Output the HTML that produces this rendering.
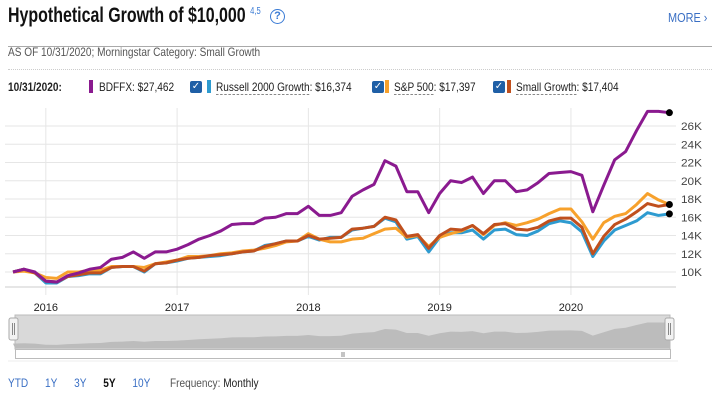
<!DOCTYPE html>
<html><head><meta charset="utf-8">
<style>
body{margin:0;width:720px;height:402px;overflow:hidden;background:#fff;font-family:"Liberation Sans",sans-serif;position:relative}
.a{position:absolute;white-space:nowrap}
.c{display:inline-block;transform:scaleX(.84);transform-origin:left center}
.lg{font-size:12px;color:#222}
.u{border-bottom:1px dashed #888}
.cb{position:absolute;width:12px;height:12px;background:#1f5fa6;border-radius:2px;color:#fff;font-size:10px;line-height:12px;text-align:center}
.bar{position:absolute;width:4px;height:13px}
</style></head><body>
<div class="a" style="left:8px;top:4px;font-size:21px;color:#111;font-weight:bold"><span class="c" style="transform:scaleX(.76)">Hypothetical Growth of $10,000 <sup style="font-size:10px;color:#3a7bd5;font-weight:normal">4,5</sup></span></div>
<div class="a" style="left:270px;top:9px;width:13px;height:13px;border:1.5px solid #3a7bd5;border-radius:50%;color:#3a7bd5;font-size:11px;font-weight:bold;text-align:center;line-height:13px">?</div>
<div class="a" style="left:668px;top:10px;font-size:13px;color:#3a6fc4"><span class="c">MORE ›</span></div>
<div class="a" style="left:8px;top:46px;width:704px;height:1px;background:#aaa"></div>
<div class="a" style="left:8px;top:45px;font-size:12px;color:#555"><span class="c">AS OF 10/31/2020; Morningstar Category: Small Growth</span></div>
<div class="a" style="left:8px;top:69px;width:704px;border-top:1px dotted #ccc"></div>
<div class="a lg" style="left:8px;top:80px;font-weight:bold"><span class="c">10/31/2020:</span></div>
<div class="bar" style="left:89px;top:80px;background:#8a1a8f"></div>
<div class="a lg" style="left:99px;top:80px"><span class="c">BDFFX: $27,462</span></div>
<div class="cb" style="left:190px;top:81px">✓</div>
<div class="bar" style="left:207px;top:80px;background:#2e9bd0"></div>
<div class="a lg" style="left:216px;top:80px"><span class="c"><span class="u">Russell 2000 Growth</span>: $16,374</span></div>
<div class="cb" style="left:372px;top:81px">✓</div>
<div class="bar" style="left:385px;top:80px;background:#f7a12c"></div>
<div class="a lg" style="left:394px;top:80px"><span class="c"><span class="u">S&amp;P 500</span>: $17,397</span></div>
<div class="cb" style="left:493px;top:81px">✓</div>
<div class="bar" style="left:507px;top:80px;background:#c0501e"></div>
<div class="a lg" style="left:516px;top:80px"><span class="c"><span class="u">Small Growth</span>: $17,404</span></div>

<svg id="ch" class="a" style="left:0;top:0" width="720" height="402"></svg>

<div class="a" style="left:8px;top:376px;font-size:12px"><span class="c">
<span style="color:#3a6fc4">YTD</span>&nbsp;&nbsp;&nbsp;&nbsp;&nbsp;
<span style="color:#3a6fc4">1Y</span>&nbsp;&nbsp;&nbsp;&nbsp;&nbsp;
<span style="color:#3a6fc4">3Y</span>&nbsp;&nbsp;&nbsp;&nbsp;&nbsp;
<span style="color:#111;font-weight:bold">5Y</span>&nbsp;&nbsp;&nbsp;&nbsp;&nbsp;
<span style="color:#3a6fc4">10Y</span>&nbsp;&nbsp;&nbsp;&nbsp;&nbsp;&nbsp;
<span style="color:#555">Frequency: <span style="color:#222">Monthly</span></span></span></div>

<script>
const bdffx=[10.0,10.3,10.0, 9.0,8.9,9.6,9.9,10.3,10.5,11.4,11.6,12.2,11.5,12.2,12.2, 12.5,13.0,13.6,14.0,14.5,15.2,15.3,15.3,15.9,16.0,16.4,16.4, 17.2,16.2,16.2,16.5,18.3,19.0,19.6,22.2,21.6,18.8,18.8,16.5, 18.6,20.0,19.8,20.4,18.6,20.0,20.0,18.8,19.0,19.8,20.8,20.9, 21.0,20.6,16.6,19.5,22.3,23.2,25.5,27.6,27.6,27.46];
const russell=[10.0,10.3,9.9, 8.8,8.8,9.5,9.6,9.8,9.8,10.5,10.6,10.6,10.0,10.9,11.0, 11.2,11.5,11.6,11.7,11.8,12.0,12.2,12.3,12.9,13.1,13.4,13.4, 13.9,13.5,13.8,13.8,14.6,14.8,15.0,15.9,15.5,13.6,13.9,12.2, 13.8,14.3,14.3,14.6,13.6,14.6,14.7,14.1,14.0,14.5,15.3,15.6, 15.4,14.4,11.7,13.4,14.6,15.1,15.6,16.5,16.2,16.37];
const smallGrowth=[10.0,10.3,9.9, 9.0,8.9,9.5,9.7,9.9,9.9,10.5,10.6,10.6,10.1,10.9,11.0, 11.3,11.5,11.6,11.8,11.9,12.0,12.2,12.3,12.8,13.1,13.4,13.4, 14.0,13.6,13.7,13.8,14.7,14.8,15.0,16.0,15.7,13.9,14.1,12.6, 14.0,14.7,14.6,15.1,14.2,15.2,15.3,14.7,14.6,14.9,15.6,15.9, 15.9,14.9,12.0,13.9,15.2,15.8,16.6,17.5,17.2,17.40];
const sp500=[10.0,10.1,9.9, 9.4,9.3,10.0,10.0,10.2,10.2,10.6,10.6,10.6,10.5,10.9,11.1, 11.3,11.7,11.7,11.8,12.0,12.1,12.3,12.4,12.6,12.9,13.3,13.4, 14.2,13.6,13.3,13.3,13.6,13.7,14.2,14.7,14.8,13.8,14.0,12.8, 13.8,14.2,14.5,15.1,14.1,15.1,15.4,15.1,15.4,15.8,16.4,16.9, 16.9,15.5,13.6,15.4,16.1,16.4,17.4,18.6,17.9,17.40];
const yTicks=[10,12,14,16,18,20,22,24,26];
const yearLabels=["2016","2017","2018","2019","2020"];
const yearMonthIdx=[3,15,27,39,51];

const NS="http://www.w3.org/2000/svg",svg=document.getElementById('ch');
const X=i=>13+i*10.94, Y=v=>272-(v-10)*9.125;
const NY=v=>346-(v-8)*1.2;
function mk(t,a,p){const e=document.createElementNS(NS,t);for(const k in a)e.setAttribute(k,a[k]);(p||svg).appendChild(e);return e;}
yTicks.forEach(t=>{
 const l=mk('line',{x1:5,x2:676,y1:Y(t),y2:Y(t),stroke:'#e6e6e6'});
 
 
 const tx=mk('text',{x:681,y:Y(t)+4,'font-size':11,fill:'#444',textLength:21,lengthAdjust:'spacingAndGlyphs'});tx.textContent=t+'K';
 
 
});
yearMonthIdx.forEach((m,i)=>{
 const l=mk('line',{x1:X(m),x2:X(m),y1:108,y2:295,stroke:'#e6e6e6'});
 
 
 const tx=mk('text',{x:X(m),y:311,'font-size':11,fill:'#222','text-anchor':'middle'});tx.textContent=yearLabels[i];
 
 
});
mk('line',{x1:5,x2:676,y1:287,y2:287,stroke:'#ccc'});
const series=[[russell,'#2e9bd0','russell-line'],[sp500,'#f7a12c','sp500-line'],[smallGrowth,'#c0501e','small-growth-line'],[bdffx,'#8a1a8f','bdffx-line']];
series.forEach(s=>{
 const p=mk('polyline',{points:s[0].map((v,i)=>X(i)+','+Y(v)).join(' '),fill:'none',stroke:s[1],'stroke-width':3,'stroke-linejoin':'round'});
 
 
});
[bdffx,sp500,russell].forEach(s=>{
 const c=mk('circle',{cx:X(s.length-1),cy:Y(s[s.length-1]),r:3.5,fill:'#000'});
 
 
});
const nav=mk('rect',{x:15,y:315,width:655,height:34,fill:'#d9d9d9',stroke:'#bbb'});


const na=mk('polygon',{points:'15,348 '+bdffx.map((v,i)=>X(i)+','+NY(v)).join(' ')+' 670,348',fill:'#bcbcbc'});


[[9,'left-handle'],[665,'right-handle']].forEach(h=>{
 const r=mk('rect',{x:h[0],y:318,width:9,height:22,rx:2,fill:'#f2f2f2',stroke:'#aaa'});
 
 
 mk('line',{x1:h[0]+3.5,x2:h[0]+3.5,y1:323,y2:335,stroke:'#888'});
 mk('line',{x1:h[0]+5.5,x2:h[0]+5.5,y1:323,y2:335,stroke:'#888'});
});
const sb=mk('rect',{x:15.5,y:349.5,width:655,height:9,fill:'#fff',stroke:'#bbb'});


mk('line',{x1:342,x2:342,y1:352,y2:357,stroke:'#888'});
mk('line',{x1:344,x2:344,y1:352,y2:357,stroke:'#888'});
mk('line',{x1:8,x2:678,y1:361,y2:361,stroke:'#eee'});
</script>
</body></html>
